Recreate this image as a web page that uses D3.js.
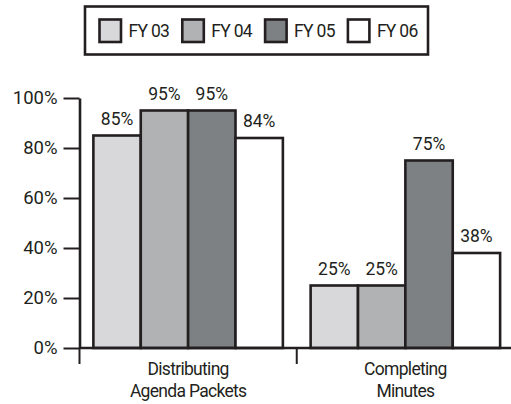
<!DOCTYPE html>
<html><head><meta charset="utf-8">
<script src="https://cdn.jsdelivr.net/npm/d3@7"></script>
<style>
html,body{margin:0;padding:0;background:#fff;}
svg{display:block;}
text{font-family:Roboto,"Liberation Sans",sans-serif;fill:#231f20;}
</style></head>
<body>
<svg id="chart" width="511" height="404"></svg>
<script>
const categories = [["Distributing","Agenda Packets"],["Completing","Minutes"]];
const categoryKeys = ["Distributing Agenda Packets","Completing Minutes"];
const series = ["FY 03","FY 04","FY 05","FY 06"];
const fy03 = [85, 25];
const fy04 = [95, 25];
const fy05 = [95, 75];
const fy06 = [84, 38];
const seriesValues = [fy03, fy04, fy05, fy06];
const yTicks = [0, 20, 40, 60, 80, 100];
const colors = ["#d8d8da", "#b1b2b4", "#7e8184", "#ffffff"];

const ink = "#231f20";
const fs = 17.5;
const svg = d3.select("#chart");

const x0 = d3.scaleBand().domain(categoryKeys).range([79.5, 514]).paddingInner(0).paddingOuter(0);
const x1 = d3.scaleBand().domain(series).range([0, x0.bandwidth()]).paddingInner(0).paddingOuter(0.293);
const y = d3.scaleLinear().domain([0, 100]).range([348, 98]);

const data = [];
categoryKeys.forEach((c, ci) => series.forEach((s, si) => data.push({c, s, si, v: seriesValues[si][ci]})));

// bars
svg.append("g").selectAll("rect").data(data).join("rect")
  .attr("x", d => x0(d.c) + x1(d.s))
  .attr("y", d => y(d.v))
  .attr("width", x1.bandwidth())
  .attr("height", d => y(0) - y(d.v))
  .attr("fill", d => colors[d.si])
  .attr("stroke", ink).attr("stroke-width", 2.6);

// value labels
svg.append("g").selectAll("text").data(data).join("text")
  .attr("x", d => x0(d.c) + x1(d.s) + x1.bandwidth() / 2)
  .attr("y", d => y(d.v) - 11)
  .attr("text-anchor", "middle")
  .attr("font-size", fs)
  .text(d => d.v + "%");

// y axis
const yAxis = svg.append("g").attr("transform", "translate(79.5,0)")
  .call(d3.axisLeft(y).tickValues(yTicks).tickSize(16).tickSizeOuter(0).tickPadding(6).tickFormat(d => d + "%"));
yAxis.select(".domain").attr("stroke", ink).attr("stroke-width", 2.6);
yAxis.selectAll(".tick line").attr("stroke", ink).attr("stroke-width", 2);
yAxis.selectAll(".tick text").attr("font-size", 18.5).attr("font-family", null).attr("fill", ink);

// x axis
const xg = svg.append("g");
xg.append("line").attr("x1", 79.5).attr("x2", 511).attr("y1", y(0)).attr("y2", y(0))
  .attr("stroke", ink).attr("stroke-width", 2.6);
xg.selectAll("line.tk").data(categoryKeys).join("line").attr("class", "tk")
  .attr("x1", d => x0(d)).attr("x2", d => x0(d))
  .attr("y1", y(0)).attr("y2", y(0) + 16)
  .attr("stroke", ink).attr("stroke-width", 2);
const cl = xg.selectAll("text.cl").data(categoryKeys).join("text").attr("class", "cl")
  .attr("text-anchor", "middle").attr("font-size", fs).attr("letter-spacing", -0.7)
  .attr("x", d => x0(d) + x0.bandwidth() / 2);
cl.each(function(d, i) {
  const t = d3.select(this);
  categories[i].forEach((line, li) => {
    t.append("tspan").attr("x", x0(d) + x0.bandwidth() / 2).attr("y", 375 + li * 21.7).text(line);
  });
});

// legend
const lg = svg.append("g");
lg.append("rect").attr("x", 85).attr("y", 6.5).attr("width", 343).attr("height", 48)
  .attr("fill", "#fff").attr("stroke", ink).attr("stroke-width", 2.6);
const li = lg.selectAll("g.li").data(series).join("g").attr("class", "li")
  .attr("transform", (d, i) => `translate(${99.5 + i * 82.8},19.5)`);
li.append("rect").attr("width", 21.5).attr("height", 22.5)
  .attr("fill", (d, i) => colors[i]).attr("stroke", ink).attr("stroke-width", 2.6);
li.append("text").attr("x", 29).attr("y", 11.5).attr("dy", "0.35em")
  .attr("font-size", fs).attr("letter-spacing", -0.7).text(d => d);
</script>
</body></html>
